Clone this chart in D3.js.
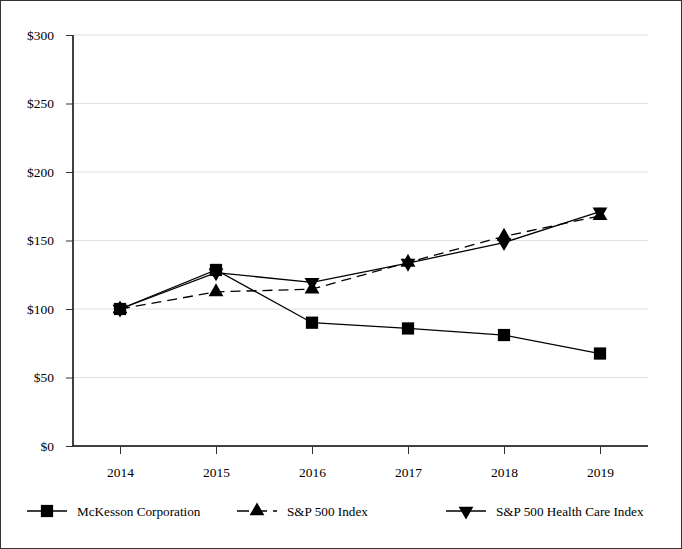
<!DOCTYPE html>
<html><head><meta charset="utf-8">
<script src="https://cdn.jsdelivr.net/npm/d3@7"></script>
<style>body{margin:0;background:#fff}svg{display:block}text{font-family:"Liberation Serif","Times New Roman",serif;fill:#000}</style>
</head><body>
<script>
const years = ["2014","2015","2016","2017","2018","2019"];
const mckesson = [100, 128.5, 90, 85.8, 81, 67.5];
const sp500 = [100, 112.5, 114.5, 134, 153, 168];
const spHealth = [100, 126.5, 119.5, 133.5, 148.5, 171];
const yTicks = [0, 50, 100, 150, 200, 250, 300];
const seriesNames = ["McKesson Corporation", "S&P 500 Index", "S&P 500 Health Care Index"];

(function(){
const W = 682, H = 549;
const svg = d3.select("body").append("svg").attr("width", W).attr("height", H);
svg.append("rect").attr("x",0.5).attr("y",0.5).attr("width",W-1).attr("height",H-1)
  .attr("fill","#fff").attr("stroke","#333").attr("stroke-width",1);

const pL = 73, pR = 648, pT = 35, pB = 446;
const x = d3.scalePoint().domain(years).range([120, 600]);
const y = d3.scaleLinear().domain([0, 300]).range([pB, pT]);

// gridlines
svg.append("g").selectAll("line").data(yTicks.filter(d=>d>0)).join("line")
  .attr("x1", pL).attr("x2", pR).attr("y1", d=>y(d)).attr("y2", d=>y(d))
  .attr("stroke", "#e0e0e0").attr("stroke-width", 1);

// y axis
const yAxis = svg.append("g").attr("transform", `translate(${pL},0)`)
  .call(d3.axisLeft(y).tickValues(yTicks).tickSize(7).tickPadding(12).tickFormat(d=>"$"+d));
yAxis.attr("font-size", null).attr("font-family", null);
yAxis.select(".domain").attr("stroke","#000").attr("stroke-width",1.5).attr("d", `M0,${pT}V${pB}`);
yAxis.selectAll(".tick line").attr("stroke","#333");
yAxis.selectAll("text").style("font-size","13.5px").style("font-family",'"Liberation Serif",serif');

// x axis
const xAxis = svg.append("g").attr("transform", `translate(0,${pB})`)
  .call(d3.axisBottom(x).tickSize(8).tickPadding(13));
xAxis.attr("font-size", null).attr("font-family", null);
xAxis.select(".domain").attr("stroke","#000").attr("stroke-width",1.5).attr("d", `M${pL},0H${pR}`);
xAxis.selectAll(".tick line").attr("stroke","#333");
xAxis.selectAll("text").style("font-size","13.5px").style("font-family",'"Liberation Serif",serif');

const line = d3.line().x((d,i)=>x(years[i])).y(d=>y(d));

const sqr = d3.symbol().type(d3.symbolSquare).size(150);
const triUp = d3.symbol().type(d3.symbolTriangle).size(95);

function drawSeries(vals, dash, marker) {
  svg.append("path").datum(vals).attr("d", line).attr("fill","none")
    .attr("stroke","#000").attr("stroke-width",1.3).attr("stroke-dasharray", dash);
  svg.append("g").selectAll("path").data(vals).join("path")
    .attr("d", marker.gen)
    .attr("transform", (d,i)=>`translate(${x(years[i])},${y(d)}) rotate(${marker.rot})`)
    .attr("fill","#000");
}
const markers = [
  {gen: sqr(), rot: 0},
  {gen: triUp(), rot: 0},
  {gen: triUp(), rot: 180}
];
drawSeries(sp500, "10,6", markers[1]);
drawSeries(spHealth, null, markers[2]);
drawSeries(mckesson, null, markers[0]);

// legend
const legX = [27, 237, 446];
const legY = 511;
const dashes = [null, "12,6", null];
seriesNames.forEach((name, i) => {
  const g = svg.append("g").attr("transform", `translate(${legX[i]},${legY})`);
  g.append("line").attr("x1",0).attr("x2",40).attr("y1",0).attr("y2",0)
    .attr("stroke","#000").attr("stroke-width",1.5).attr("stroke-dasharray", dashes[i]);
  g.append("path").attr("d", markers[i].gen).attr("transform", `translate(20,0) rotate(${markers[i].rot})`).attr("fill","#000");
  g.append("text").attr("x", 50).attr("y", 4.5).style("font-size","13.2px").text(name);
});
})();
</script>
</body></html>
